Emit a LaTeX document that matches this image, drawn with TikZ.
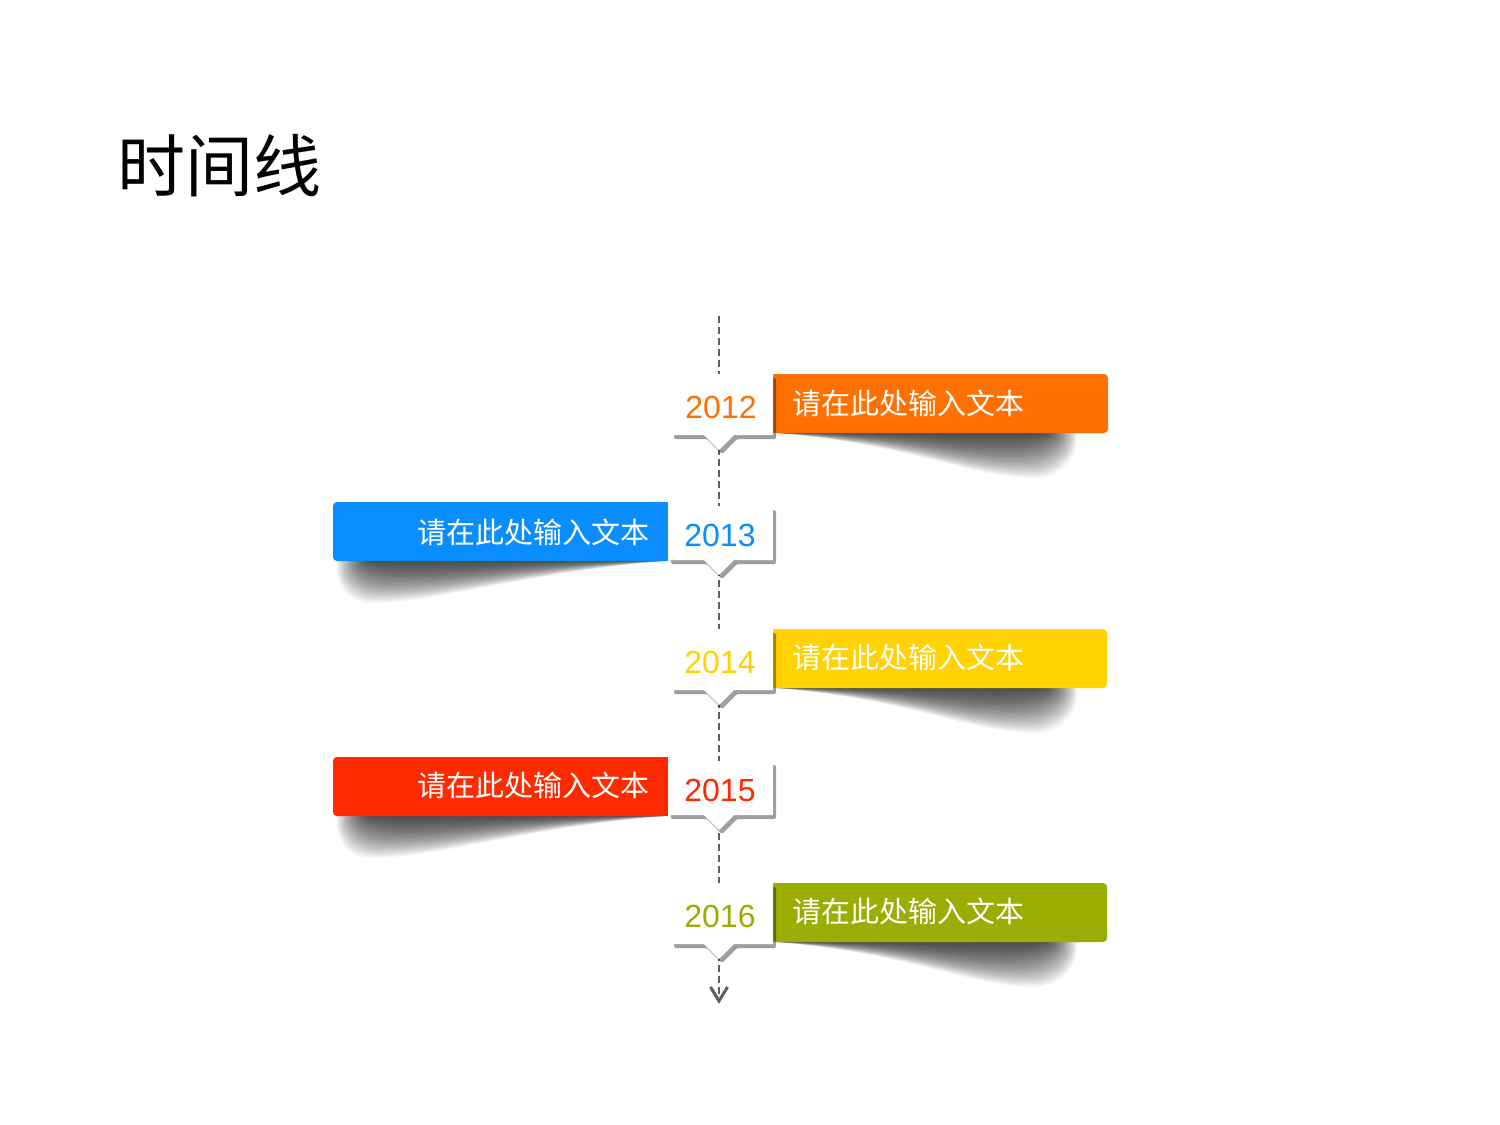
\documentclass[tikz,border=0pt]{standalone}
\usepackage{fontspec}
\setmainfont{Liberation Sans}
\newfontfamily\cjk{Noto Sans CJK SC}
\definecolor{cOrange}{HTML}{FF7000}
\definecolor{cBlue}{HTML}{0A8EFF}
\definecolor{cYellow}{HTML}{FFD200}
\definecolor{cRed}{HTML}{FF2A00}
\definecolor{cOlive}{HTML}{9BAD00}
\definecolor{lineGray}{HTML}{5E5E5E}
\tikzset{
  tl/.style={draw=lineGray, line width=2pt, dash pattern=on 7pt off 4pt},
  tlhead/.style={draw=lineGray, line width=3pt, line join=miter},
  cshadow/.style={fill=black, opacity=0.38, rounded corners=1.5pt},
  cbox/.style={fill=white},
  yeartext/.style={font=\fontsize{32}{32}\selectfont, inner sep=0pt, anchor=base},
  bartext/.style={font=\cjk\fontsize{29}{29}\selectfont, text=white, inner sep=0pt},
  titletext/.style={font=\cjk\fontsize{68}{68}\selectfont, text=black, inner sep=0pt, anchor=base west}
}
% callout: #1 left x, #2 right x, #3 top y, #4 bottom y
\newcommand\callout[4]{%
  \fill[cshadow] ({#1+3},{#3+4}) -- ({#2+3},{#3+4}) -- ({#2+3},{#4+4}) -- (737,{#4+4}) -- (722,{#4+19}) -- (707,{#4+4}) -- ({#1+3},{#4+4}) -- cycle;
  \fill[cbox] (#1,#3) -- (#2,#3) -- (#2,#4) -- (734,#4) -- (719,{#4+15}) -- (704,#4) -- (#1,#4) -- cycle;
  \draw[black!12, line width=0.6pt] (704,#4) -- (719,{#4+15});
}
% curled shadow in local coords: #1 end, #2 lowest point u, #3 height
\newcommand\curlshade[3]{%
  \foreach \i in {0,...,29}{
    \pgfmathsetmacro\hh{#3*(1-\i/30)}
    \pgfmathsetmacro\ee{#1-1.1*\i}
    \pgfmathsetmacro\ll{#2-1.5*\i}
    \fill[black,opacity=0.037] (4,0) -- (\ee,0) .. controls ({\ee+3},{0.55*\hh}) and ({\ll+22},\hh) .. (\ll,\hh) .. controls ({\ll-70},\hh) and (150,{0.3*\hh}) .. (4,0) -- cycle;
  }}
\begin{document}
\begin{tikzpicture}[x=1pt,y=-1pt]
\useasboundingbox[fill=white] (0,0) rectangle (1500,1125);

\node[titletext] (title) at (117,191) {时间线};

\coordinate (tlTop) at (719,316);
\coordinate (tlEnd) at (719,1001);
\draw[tl] (tlTop) -- (tlEnd);
\draw[tlhead] (tlEnd) ++(-8.5,-14) -- (tlEnd) -- ++(8.5,-14);

% ---- 2012 (right)
\begin{scope}[shift={(773,433)}] \curlshade{304}{264}{45} \end{scope}
\fill[cOrange, rounded corners=4pt] (773,374) rectangle (1108,433);
\fill[cOrange] (773,374) rectangle (800,433);
\callout{671}{773}{374}{435}
\node[yeartext, text=cOrange] (y2012) at (721,418.5) {2012};
\node[bartext, anchor=base west] (t2012) at (792,414) {请在此处输入文本};

% ---- 2013 (left)
\begin{scope}[shift={(668,561)}, xscale=-1] \curlshade{331}{298}{42} \end{scope}
\fill[cBlue, rounded corners=4pt] (333,502) rectangle (668,561);
\fill[cBlue] (640,502) rectangle (668,561);
\callout{668}{773}{506}{560}
\node[yeartext, text=cBlue] (y2013) at (720,546.5) {2013};
\node[bartext, anchor=base east] (t2013) at (650,543) {请在此处输入文本};

% ---- 2014 (right)
\begin{scope}[shift={(773,688)}] \curlshade{304}{264}{45} \end{scope}
\fill[cYellow, rounded corners=4pt] (773,629) rectangle (1107,688);
\fill[cYellow] (773,629) rectangle (800,688);
\callout{671}{773}{629}{690}
\node[yeartext, text=cYellow] (y2014) at (720,673.5) {2014};
\node[bartext, anchor=base west] (t2014) at (792,668) {请在此处输入文本};

% ---- 2015 (left)
\begin{scope}[shift={(668,816)}, xscale=-1] \curlshade{331}{298}{42} \end{scope}
\fill[cRed, rounded corners=4pt] (333,757) rectangle (668,816);
\fill[cRed] (640,757) rectangle (668,816);
\callout{668}{773}{761}{815}
\node[yeartext, text=cRed] (y2015) at (720,801.5) {2015};
\node[bartext, anchor=base east] (t2015) at (650,796) {请在此处输入文本};

% ---- 2016 (right)
\begin{scope}[shift={(773,942)}] \curlshade{304}{264}{45} \end{scope}
\fill[cOlive, rounded corners=4pt] (773,883) rectangle (1107,942);
\fill[cOlive] (773,883) rectangle (800,942);
\callout{671}{773}{883}{944}
\node[yeartext, text=cOlive] (y2016) at (720,927.5) {2016};
\node[bartext, anchor=base west] (t2016) at (792,922) {请在此处输入文本};
\end{tikzpicture}
\end{document}
